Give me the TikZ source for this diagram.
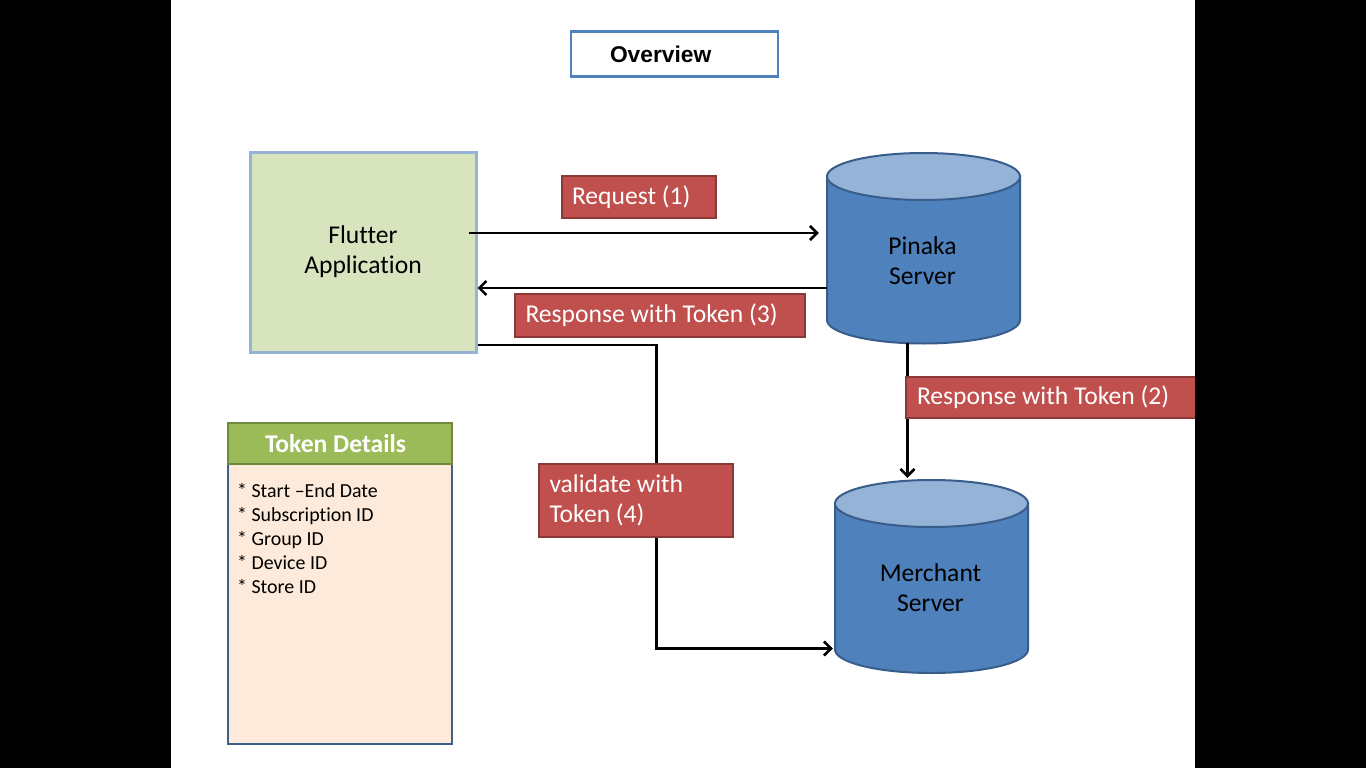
\documentclass[tikz,border=0pt]{standalone}
\usepackage{fontspec}
\setmainfont{Carlito}[Ligatures={NoCommon}]
\newfontfamily\arialfont{Liberation Sans}
\usetikzlibrary{arrows.meta,calc}
\setlength{\parindent}{0pt}
\definecolor{flfill}{HTML}{D7E4BD}
\definecolor{flborder}{HTML}{95B3D7}
\definecolor{cylbody}{HTML}{4F81BD}
\definecolor{cyltop}{HTML}{95B3D7}
\definecolor{cylborder}{HTML}{385D8A}
\definecolor{lblred}{HTML}{C0504D}
\definecolor{lblborder}{HTML}{8C3836}
\definecolor{hdrgreen}{HTML}{9BBB59}
\definecolor{hdrborder}{HTML}{71893F}
\definecolor{bodyfill}{HTML}{FDEADA}
\definecolor{bodyborder}{HTML}{3E5F8A}
\definecolor{ovborder}{HTML}{4F81BD}
\newcommand{\bigfont}{\fontsize{25.6pt}{30pt}\selectfont}
\newcommand{\smallfont}{\fontsize{19.9pt}{24pt}\selectfont}
\begin{document}
\begin{tikzpicture}[x=1pt,y=-1pt,
  lbl/.style={draw=lblborder, fill=lblred, line width=2pt, text=white,
    font=\bigfont, inner xsep=10pt, inner ysep=0pt},
  arr/.style={line width=2.6pt, draw=black, -{Straight Barb[length=7pt,width=14pt]}},
  cyl/.style={fill=cylbody, draw=cylborder, line width=2pt},
  cyltopst/.style={fill=cyltop, draw=cylborder, line width=2pt},
  ghost/.style={draw=none, fill=none, inner sep=0pt}
]
\useasboundingbox (0,0) rectangle (1366,768);
\fill[white] (0,0) rectangle (1366,768);

% Overview title
\node[draw=ovborder, line width=2.5pt, minimum width=207pt, minimum height=45pt,
  inner xsep=39pt, font=\arialfont\bfseries\fontsize{22.8pt}{26pt}\selectfont]
  (overview) at (674.5,54) {\makebox[129pt][l]{Overview}};

% Flutter application
\node[draw=flborder, fill=flfill, line width=3pt, minimum width=226pt, minimum height=200pt,
  align=center, font=\bigfont] (flutter) at (363,252) {Flutter\\Application};

% Pinaka server cylinder
\path[cyl] (827,176.5) -- (827,320)
  arc[start angle=180, end angle=360, x radius=96.5pt, y radius=23.5pt]
  -- (1020,176.5) -- cycle;
\path[cyltopst] (923.5,176.5) ellipse [x radius=96.5pt, y radius=23.5pt];
\node[ghost, minimum width=193pt, minimum height=190pt] (pinaka) at (923.5,248) {};
\node[ghost, align=center, font=\bigfont] (pinakatxt) at (922.5,261) {Pinaka\\Server};

% Merchant server cylinder
\path[cyl] (835,503.5) -- (835,649.5)
  arc[start angle=180, end angle=360, x radius=96.5pt, y radius=23.5pt]
  -- (1028,503.5) -- cycle;
\path[cyltopst] (931.5,503.5) ellipse [x radius=96.5pt, y radius=23.5pt];
\node[ghost, minimum width=193pt, minimum height=193pt] (merchant) at (931.5,576.5) {};
\node[ghost, align=center, font=\bigfont] (merchanttxt) at (930.5,588) {Merchant\\Server};

% Connectors
\draw[arr] ($(flutter.east)+(-9,-19)$) -- ($(pinaka.west)+(-8,-15)$);
\draw[arr] ($(pinaka.west)+(0,40)$) -- ($(flutter.east)+(0,36)$);
\draw[arr] ($(pinaka.south)+(-16,0)$) -- ($(merchant.north)+(-24,-2)$);
\draw[arr] ($(flutter.east)+(0,93)$) -- ++(179,0) |- ($(merchant.west)+(-2,72)$);

% Labels
\node[lbl, minimum height=42pt] (req) at (639,197) {\makebox[134pt][l]{Request (1)}};
\node[lbl, minimum height=43pt, inner xsep=11pt] (resp3) at (659.5,315.5) {\makebox[268pt][l]{Response with Token (3)}};
\node[lbl, minimum height=41pt, inner xsep=11pt] (resp2) at (1051,397.5) {\makebox[268pt][l]{Response with Token (2)}};
\node[lbl, minimum height=73pt, inner xsep=11pt, align=left] (valid) at (635.5,500.5) {\makebox[172pt][l]{validate with}\\Token (4)};

% Token details
\node[draw=bodyborder, fill=bodyfill, line width=2.5pt, minimum width=224pt, minimum height=280pt]
  (tokbody) at (340,604) {};
\node[draw=hdrborder, fill=hdrgreen, line width=2.5pt, minimum width=224pt, minimum height=41pt,
  inner xsep=37pt, text=white, font=\bigfont\bfseries] (tokhead) at (340,443.5) {\makebox[150pt][l]{Token Details}};
\node[ghost, anchor=north west, align=left, font=\smallfont] (toklist) at (237,483)
  {* Start –End Date\\* Subscription ID\\* Group ID\\* Device ID\\* Store ID};

% Black side bars
\fill[black] (0,0) rectangle (171,768);
\fill[black] (1195,0) rectangle (1366,768);
\end{tikzpicture}
\end{document}
